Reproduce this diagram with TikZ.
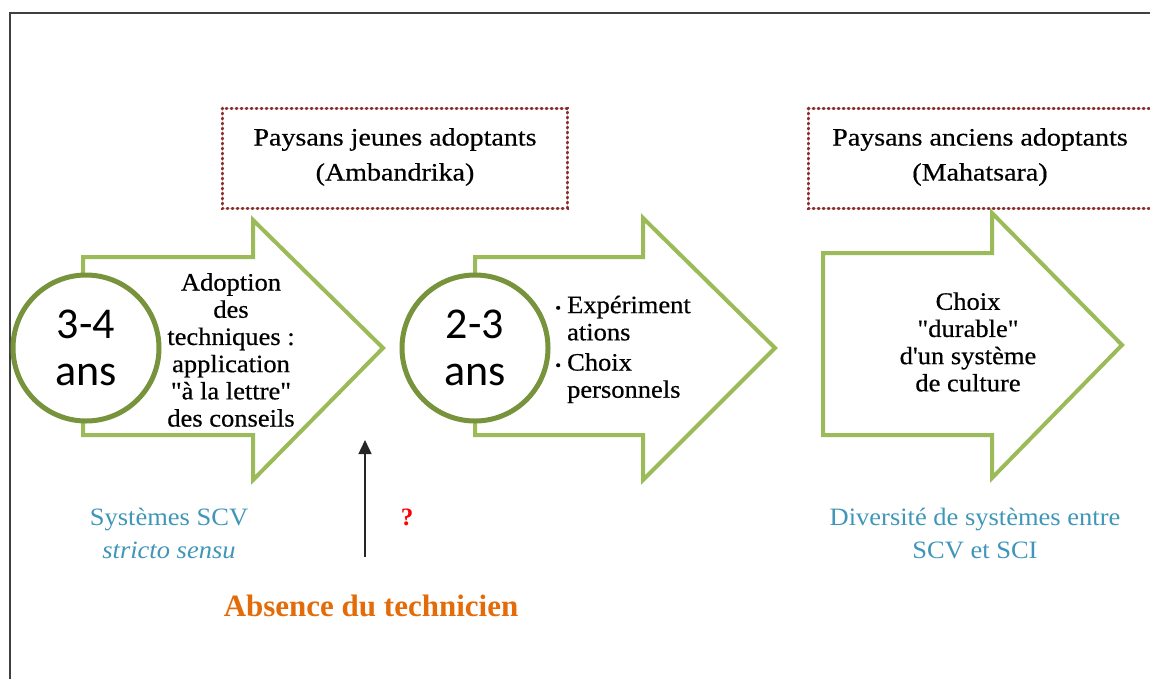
\documentclass[tikz,border=0pt]{standalone}
\usepackage{fontspec}
\setmainfont{Liberation Serif}
\newfontfamily\calib{Carlito}
\newfontfamily\sserif[FakeStretch=1.06,FakeBold=0.5]{Liberation Serif}
\newfontfamily\bserif[FakeStretch=1.12,FakeBold=0.5]{Liberation Serif}
\newfontfamily\tserif[FakeStretch=1.06]{Liberation Serif}
\usetikzlibrary{arrows.meta}
\definecolor{arrgreen}{HTML}{9BBB59}
\definecolor{circgreen}{HTML}{77933C}
\definecolor{dotred}{HTML}{8B2E2C}
\definecolor{tealc}{HTML}{4096B8}
\definecolor{orng}{HTML}{E36C09}
\definecolor{framegray}{HTML}{404040}
\tikzset{
  bigarrow/.style={draw=arrgreen, line width=4pt, fill=white, line join=miter},
  yearcirc/.style={circle, draw=circgreen, line width=5pt, fill=white, minimum size=146pt, inner sep=0pt, align=center, font=\calib\fontsize{44}{47}\selectfont},
  dotbox/.style={draw=dotred, line width=3pt, line cap=round, dash pattern=on 1pt off 4pt},
  bodytext/.style={align=center, font=\sserif\fontsize{25}{27.2}\selectfont, inner sep=0pt},
  boxtext/.style={align=center, font=\bserif\fontsize{25}{35}\selectfont, inner sep=0pt},
  tealtext/.style={align=center, text=tealc, font=\tserif\fontsize{25}{33}\selectfont, inner sep=0pt},
}
\begin{document}
\begin{tikzpicture}[x=1pt,y=-1pt]
\useasboundingbox (0,0) rectangle (1150,678);
% frame
\draw[framegray, line width=2pt] (10,700) -- (10,13) -- (1170,13);
% dotted boxes
\draw[dotbox] (222,108) rectangle (567,208);
\draw[dotbox] (808,108) rectangle (1156,208);
\node[boxtext] (box1) at (395,157) {Paysans jeunes adoptants\\(Ambandrika)};
\node[boxtext] (box2) at (980,157) {Paysans anciens adoptants\\(Mahatsara)};
% arrows
\draw[bigarrow] (83,257) -- (253,257) -- (253,220) -- (383,348) -- (253,480) -- (253,435) -- (83,435) -- cycle;
\draw[bigarrow] (475,257) -- (643,257) -- (643,218) -- (775,348) -- (643,480) -- (643,435) -- (475,435) -- cycle;
\draw[bigarrow] (823,253) -- (992,253) -- (992,213) -- (1122,345) -- (992,478) -- (992,435) -- (823,435) -- cycle;
% circles
\node[yearcirc] (c1) at (86,348) {3-4\\ans};
\node[yearcirc] (c2) at (475,348) {2-3\\ans};
% arrow texts
\node[bodytext] (t1) at (231,350) {Adoption\\des\\techniques :\\application\\"à la lettre"\\des conseils};
\node[bodytext, align=left, anchor=west] (t2) at (555,350) {%
  \begin{tabular}{@{}l@{\hspace{6pt}}l@{}}
  {\fontsize{16}{16}\selectfont\textbullet} & Expériment\\
  & ations\\[3pt]
  {\fontsize{16}{16}\selectfont\textbullet} & Choix\\
  & personnels
  \end{tabular}};
\node[bodytext] (t3) at (968,342) {Choix\\"durable"\\d'un système\\de culture};
% bottom texts
\node[tealtext] (scv) at (169,533) {Systèmes SCV\\\textit{stricto sensu}};
\node[tealtext] (div) at (975,533) {Diversité de systèmes entre\\SCV et SCI};
\node[text=red, font=\bfseries\fontsize{25}{25}\selectfont, inner sep=0pt] (q) at (407,517) {?};
\node[text=orng, font=\bfseries\fontsize{31}{31}\selectfont, inner sep=0pt] (abs) at (371,606) {Absence du technicien};
% up arrow
\coordinate (upstart) at (365,557);
\coordinate (upend) at (365,440);
\draw[black!85, line width=1.5pt, -{Triangle[length=14pt,width=13pt]}] (upstart) -- (upend);
\end{tikzpicture}
\end{document}
